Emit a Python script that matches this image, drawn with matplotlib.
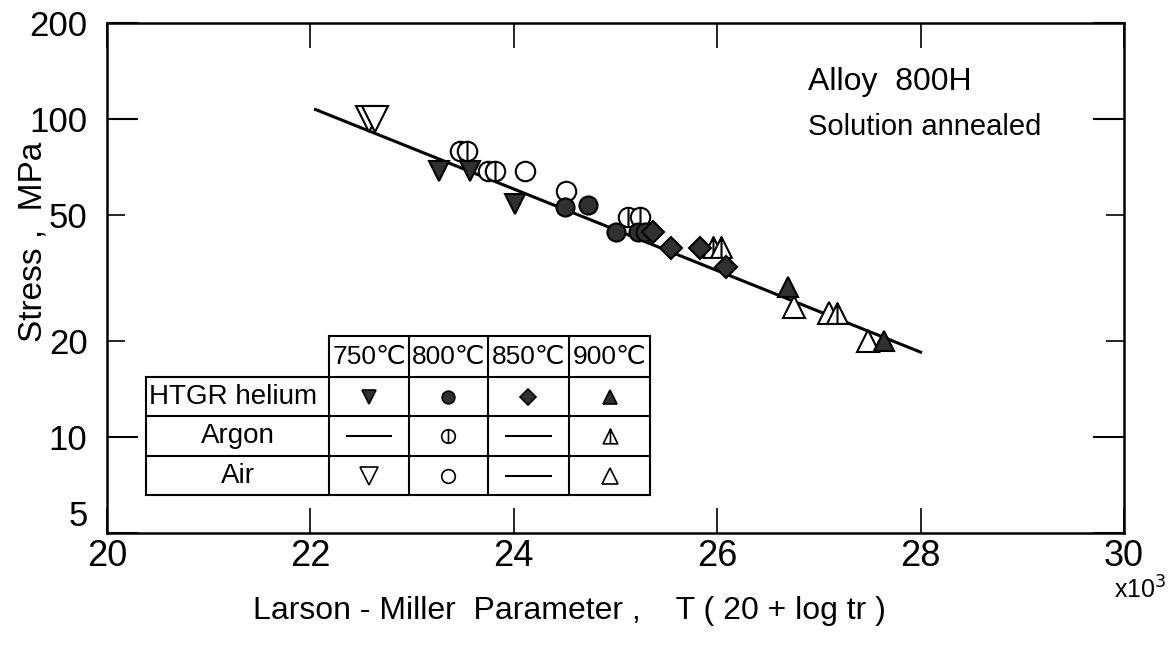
import numpy as np
import matplotlib.pyplot as plt
from matplotlib.path import Path

plt.rcParams['font.family'] = ['Liberation Sans', 'DejaVu Sans']

# data (LMP in 10^3, stress in MPa)
fit_lmp = [22.05, 28.0]
fit_stress = [107, 18.5]

he750_lmp = [23.26, 23.57, 24.01]
he750_s = [68.5, 68.5, 54]
he800_lmp = [24.50, 24.73, 25.01, 25.22, 25.29]
he800_s = [53, 53.5, 44.2, 44, 44]
he850_lmp = [25.37, 25.55, 25.83, 26.09]
he850_s = [44, 39.2, 39.2, 34.2]
he900_lmp = [26.70, 27.64]
he900_s = [29.6, 20]

ar800_lmp = [23.47, 23.54, 23.75, 23.82, 25.12, 25.24]
ar800_s = [79, 79, 68.6, 68.6, 49.3, 49.3]
ar900_lmp = [25.96, 26.04, 27.18]
ar900_s = [39.6, 39.6, 24.5]

air750_lmp = [22.58, 22.64]
air750_s = [100, 100]
air800_lmp = [24.11, 24.51]
air800_s = [68.6, 59.5]
air900_lmp = [26.76, 27.10, 27.48]
air900_s = [25.7, 24.5, 20]

temps = ['750℃', '800℃', '850℃', '900℃']
envs = ['HTGR helium', 'Argon', 'Air']

# markers: circle / triangle with a vertical bar for argon
bar_circle = Path.make_compound_path(Path.unit_circle(), Path([(0, -1), (0, 1)]))
tri = Path([(0, 1), (-1, -1), (1, -1), (0, 1)],
           [Path.MOVETO, Path.LINETO, Path.LINETO, Path.CLOSEPOLY])
bar_tri = Path.make_compound_path(tri, Path([(0, 1), (0, -1)]))

dark = '#303030'
styles = {
    'he750': dict(marker='v', mfc=dark, ms=14),
    'he800': dict(marker='o', mfc=dark, ms=13),
    'he850': dict(marker='D', mfc=dark, ms=11),
    'he900': dict(marker='^', mfc=dark, ms=14),
    'ar800': dict(marker=bar_circle, mfc='white', ms=14),
    'ar900': dict(marker=bar_tri, mfc='white', ms=15),
    'air750': dict(marker='v', mfc='white', ms=19),
    'air800': dict(marker='o', mfc='white', ms=14),
    'air900': dict(marker='^', mfc='white', ms=16),
}

fig = plt.figure(figsize=(11.72, 6.52), dpi=100)
ax = fig.add_axes([0.0913, 0.1825, 0.8677, 0.7822])

ax.plot(fit_lmp, fit_stress, color='black', lw=2.2, zorder=2)

series = [
    ('air750', air750_lmp, air750_s), ('air800', air800_lmp, air800_s),
    ('air900', air900_lmp, air900_s), ('ar800', ar800_lmp, ar800_s),
    ('ar900', ar900_lmp, ar900_s), ('he750', he750_lmp, he750_s),
    ('he800', he800_lmp, he800_s), ('he850', he850_lmp, he850_s),
    ('he900', he900_lmp, he900_s),
]
for key, xs, ys in series:
    ax.plot(xs, ys, ls='none', mec='black', mew=1.5, zorder=3, **styles[key])

ax.set_yscale('log')
ax.set_xlim(20, 30)
ax.set_ylim(5, 200)

ax.set_xticks([20, 22, 24, 26, 28, 30])
ax.set_xticklabels(['20', '22', '24', '26', '28', '30'])
ax.xaxis.set_minor_locator(plt.NullLocator())
ax.set_yticks([5, 10, 100, 200])
ax.set_yticklabels(['5', '10', '100', '200'])
ax.set_yticks([20, 50], minor=True)
ax.set_yticklabels(['20', '50'], minor=True)

ax.tick_params(axis='x', which='major', direction='in', length=18, width=1.2,
               top=True, labelsize=26, pad=4)
ax.tick_params(axis='y', which='major', direction='in', length=22, width=1.5,
               right=True, labelsize=25, pad=14)
ax.tick_params(axis='y', which='minor', direction='in', length=13, width=1.2,
               right=True, labelsize=25, pad=14)
ax.get_yticklabels()[0].set_va('bottom')
for s in ax.spines.values():
    s.set_linewidth(1.8)

ax.set_xlabel('Larson - Miller  Parameter ,    T ( 20 + log tr )', fontsize=23)
ax.xaxis.set_label_coords(0.455, -0.123)
ax.set_ylabel('Stress ,  MPa', fontsize=24)
ax.yaxis.set_label_coords(-0.058, 0.57)
ax.text(1.016, -0.112, r'x10$^3$', transform=ax.transAxes, fontsize=18,
        ha='center', va='center')

ax.text(0.689, 0.884, 'Alloy  800H', transform=ax.transAxes, fontsize=23, va='center')
ax.text(0.689, 0.796, 'Solution annealed', transform=ax.transAxes, fontsize=21, va='center')

# legend table (axes fraction)
cols = [0.0383, 0.2183, 0.297, 0.3746, 0.4543, 0.534]
rows = [0.386, 0.306, 0.229, 0.151, 0.0745]
tk = dict(transform=ax.transAxes, color='black', lw=1.5, clip_on=False, zorder=5)
ax.plot([cols[1], cols[-1]], [rows[0], rows[0]], **tk)
for r in rows[1:]:
    ax.plot([cols[0], cols[-1]], [r, r], **tk)
ax.plot([cols[0], cols[0]], [rows[1], rows[-1]], **tk)
for c in cols[1:]:
    ax.plot([c, c], [rows[0], rows[-1]], **tk)

for i, t in enumerate(temps):
    ax.text((cols[i + 1] + cols[i + 2]) / 2, (rows[0] + rows[1]) / 2, t,
            transform=ax.transAxes, ha='center', va='center', fontsize=19)
for j, e in enumerate(envs):
    yc = (rows[j + 1] + rows[j + 2]) / 2
    if j == 0:
        ax.text(cols[0] + 0.003, yc, e, transform=ax.transAxes, ha='left',
                va='center', fontsize=20)
    else:
        ax.text((cols[0] + cols[1]) / 2, yc, e, transform=ax.transAxes,
                ha='center', va='center', fontsize=20)

grid = [['he750', 'he800', 'he850', 'he900'],
        [None, 'ar800', None, 'ar900'],
        ['air750', 'air800', None, 'air900']]
for j, rowkeys in enumerate(grid):
    yc = (rows[j + 1] + rows[j + 2]) / 2
    for i, key in enumerate(rowkeys):
        xc = (cols[i + 1] + cols[i + 2]) / 2
        if key is None:
            ax.plot([xc - 0.022, xc + 0.022], [yc, yc], transform=ax.transAxes,
                    color='black', lw=1.5, clip_on=False, zorder=5)
        else:
            st = dict(styles[key])
            st['ms'] = st['ms'] * 0.7
            ax.plot([xc], [yc], transform=ax.transAxes, ls='none', mec='black',
                    mew=1.2, clip_on=False, zorder=5, **st)

fig.savefig('out.png', dpi=100)
